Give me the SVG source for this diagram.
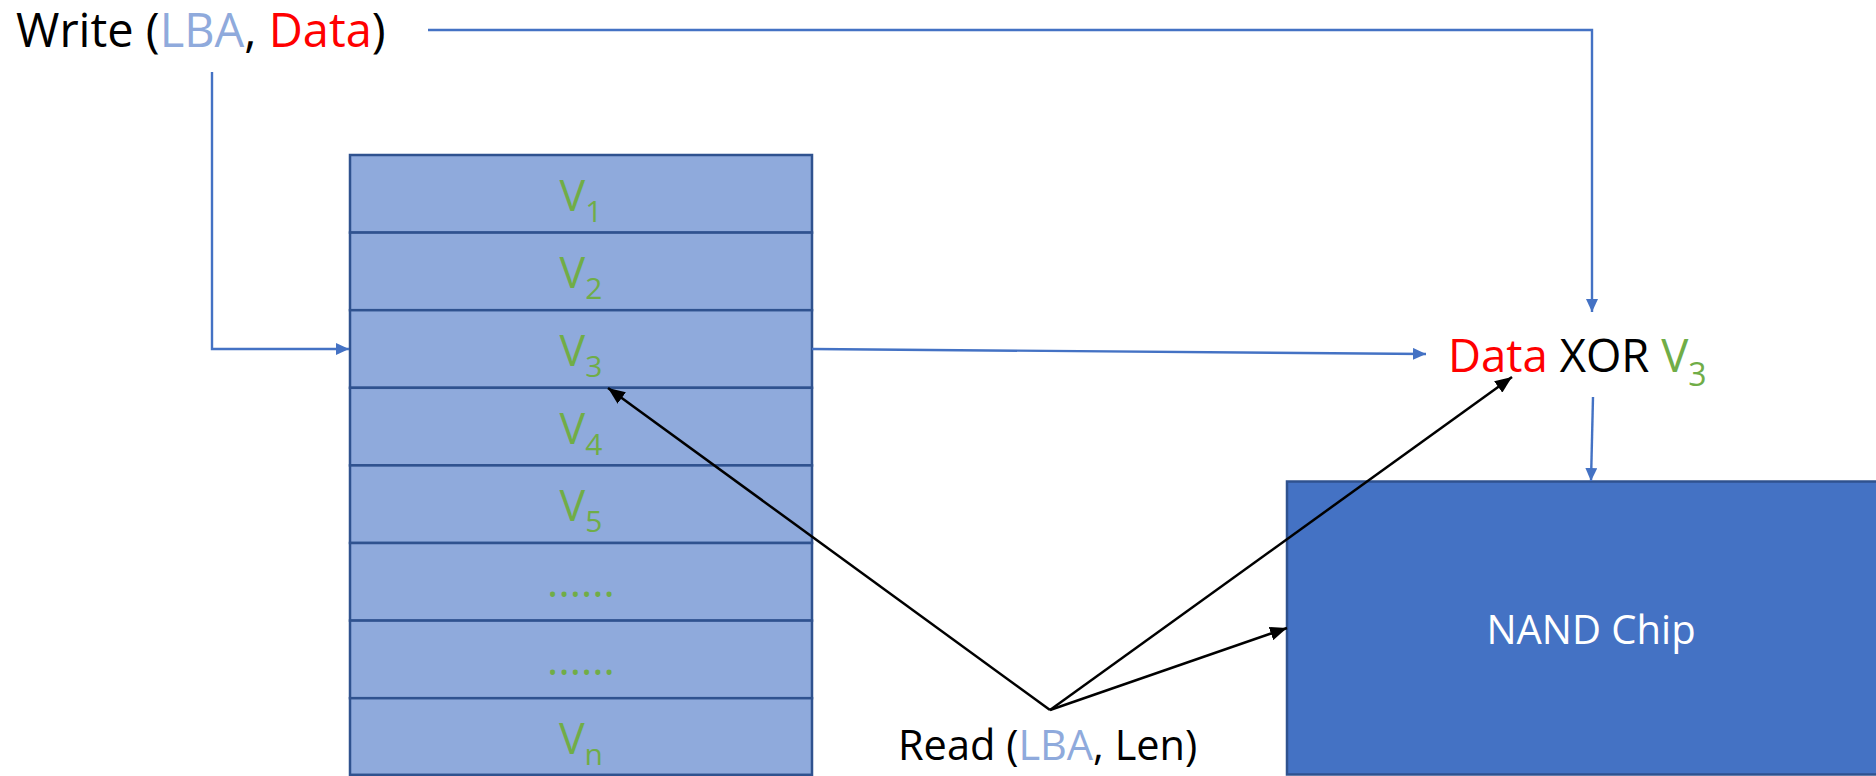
<svg xmlns="http://www.w3.org/2000/svg" width="1876" height="776" viewBox="0 0 1876 776">
<style>
text{font-family:"Open Sans","Liberation Sans",sans-serif;}
.cell{fill:#8FAADC;stroke:#2F528F;stroke-width:2.5;}
.v{fill:#70AD47;font-size:43px;text-anchor:middle;}
.sub{font-size:30px;}
.blue{fill:none;stroke:#4472C4;stroke-width:2.4;}
.blk{fill:none;stroke:#000;stroke-width:2.5;}
.lba{fill:#8FAADC;}
.data{fill:#FF0000;}
.g{fill:#70AD47;}
</style>
<defs>
<marker id="ab" markerUnits="userSpaceOnUse" markerWidth="14" markerHeight="12" refX="13" refY="6" orient="auto"><path d="M0,0 L13,6 L0,12 z" fill="#4472C4"/></marker>
<marker id="ak" markerUnits="userSpaceOnUse" markerWidth="18" markerHeight="14" refX="17" refY="7" orient="auto"><path d="M0,0 L17,7 L0,14 z" fill="#000"/></marker>
</defs>
<rect width="1876" height="776" fill="#fff"/>

<g id="table">
<rect class="cell" x="350" y="155" width="462" height="77.6"/>
<rect class="cell" x="350" y="232.6" width="462" height="77.6"/>
<rect class="cell" x="350" y="310.2" width="462" height="77.6"/>
<rect class="cell" x="350" y="387.8" width="462" height="77.6"/>
<rect class="cell" x="350" y="465.4" width="462" height="77.6"/>
<rect class="cell" x="350" y="543" width="462" height="77.6"/>
<rect class="cell" x="350" y="620.6" width="462" height="77.6"/>
<rect class="cell" x="350" y="698.2" width="462" height="76.6"/>
<text class="v" x="581" y="210.7">V<tspan class="sub" dy="11">1</tspan></text>
<text class="v" x="581" y="288.3">V<tspan class="sub" dy="11">2</tspan></text>
<text class="v" x="581" y="365.9">V<tspan class="sub" dy="11">3</tspan></text>
<text class="v" x="581" y="443.5">V<tspan class="sub" dy="11">4</tspan></text>
<text class="v" x="581" y="521.1">V<tspan class="sub" dy="11">5</tspan></text>
<text class="v" x="581" y="597">......</text>
<text class="v" x="581" y="675">......</text>
<text class="v" x="581" y="753.9">V<tspan class="sub" dy="11">n</tspan></text>
</g>

<g id="nand">
<rect x="1287" y="481.5" width="600" height="293" fill="#4472C4" stroke="#2F528F" stroke-width="2.5"/>
<text x="1591" y="644" fill="#fff" font-size="40" text-anchor="middle">NAND Chip</text>
</g>

<g id="write">
<text x="16" y="47" font-size="47" fill="#000">Write (<tspan class="lba">LBA</tspan>, <tspan class="data">Data</tspan>)</text>
</g>

<g id="xor">
<text x="1448" y="372" font-size="45.5" fill="#000"><tspan class="data">Data</tspan> XOR <tspan class="g">V</tspan><tspan class="g" font-size="32" dy="14">3</tspan></text>
</g>

<g id="read">
<text x="898" y="760" font-size="41.5" fill="#000">Read (<tspan class="lba">LBA</tspan>, Len)</text>
</g>

<g id="connectors">
<polyline class="blue" points="428,30 1592,30 1592,312" marker-end="url(#ab)"/>
<polyline class="blue" points="212,72 212,349 349,349" marker-end="url(#ab)"/>
<line class="blue" x1="812" y1="349" x2="1426" y2="354" marker-end="url(#ab)"/>
<line class="blue" x1="1593" y1="397" x2="1591" y2="481" marker-end="url(#ab)"/>
<line class="blk" x1="1050" y1="710" x2="608" y2="388" marker-end="url(#ak)"/>
<line class="blk" x1="1050" y1="710" x2="1512" y2="377" marker-end="url(#ak)"/>
<line class="blk" x1="1050" y1="710" x2="1287" y2="628" marker-end="url(#ak)"/>
</g>
</svg>
